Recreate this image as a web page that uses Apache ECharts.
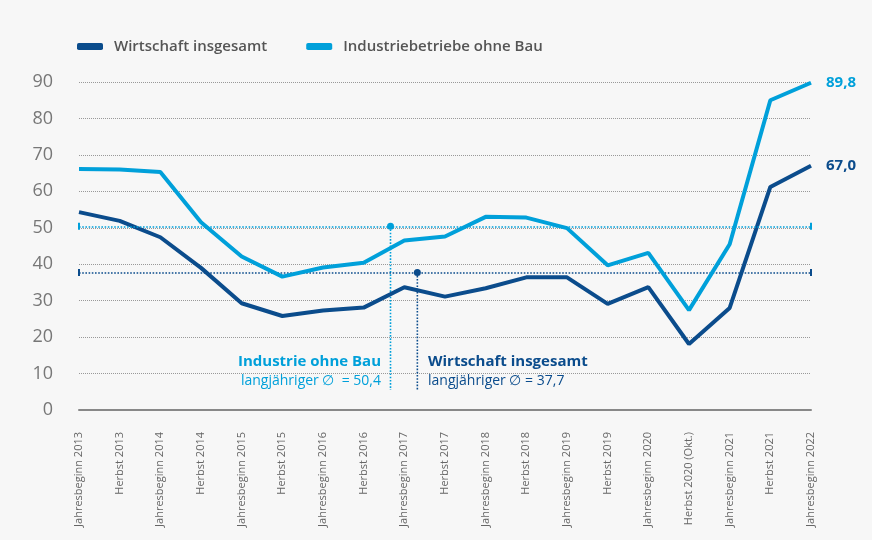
<!DOCTYPE html>
<html><head><meta charset="utf-8">
<script src="https://cdn.jsdelivr.net/npm/echarts@6/dist/echarts.min.js"></script>
<style>html,body{margin:0;padding:0;background:#f7f7f7}#c{width:872px;height:540px}</style>
</head><body><div id="c"></div>
<script>
var categories = ['Jahresbeginn 2013','Herbst 2013','Jahresbeginn 2014','Herbst 2014','Jahresbeginn 2015','Herbst 2015','Jahresbeginn 2016','Herbst 2016','Jahresbeginn 2017','Herbst 2017','Jahresbeginn 2018','Herbst 2018','Jahresbeginn 2019','Herbst 2019','Jahresbeginn 2020','Herbst 2020 (Okt.)','Jahresbeginn 2021','Herbst 2021','Jahresbeginn 2022'];
var wirtschaft = [54.3,51.9,47.4,39.0,29.3,25.8,27.3,28.1,33.7,31.1,33.4,36.4,36.4,29.1,33.7,18.1,28.0,61.2,67.0];
var industrie = [66.1,66.0,65.3,51.5,42.1,36.6,39.1,40.4,46.5,47.6,53.0,52.8,49.9,39.7,43.1,27.4,45.5,85.0,89.8];
var avgIndustrie = 50.4;
var avgWirtschaft = 37.7;
var yTicks = [0,10,20,30,40,50,60,70,80,90];
// annotation marker positions in category-index units
var annIndustrieX = 7.66;
var annWirtschaftX = 8.32;
var annBottom = 5.5;

var dark = '#0b4c8c', light = '#00a0da';
var font = 'Open Sans';
var chart = echarts.init(document.getElementById('c'));
function avgLine(v, col){
  return {silent:true, symbol:['rect','rect'], symbolSize:[7,2],
    label:{show:false},
    lineStyle:{color:col, type:'dotted', width:1.6},
    data:[{yAxis:v}]};
}
chart.setOption({
  backgroundColor:'#f7f7f7',
  animation:false,
  textStyle:{fontFamily:font},
  legend:{left:72, top:34, itemWidth:26, itemHeight:7, itemGap:39, icon:'roundRect',
    textStyle:{fontSize:15, fontWeight:600, color:'#555', fontFamily:font, padding:[0,0,0,6]},
    data:['Wirtschaft insgesamt','Industriebetriebe ohne Bau']},
  grid:{left:79, right:61, top:82, bottom:130},
  xAxis:[{type:'category', data:categories, boundaryGap:false,
    axisLine:{lineStyle:{color:'#888', width:2}}, axisTick:{show:false},
    axisLabel:{rotate:90, interval:0, margin:22, fontSize:11, color:'#666', fontFamily:font}},
    {type:'value', min:0, max:categories.length-1, show:false}],
  yAxis:{type:'value', min:yTicks[0], max:yTicks[yTicks.length-1], interval:10,
    axisLine:{show:false}, axisTick:{show:false},
    axisLabel:{fontSize:18, color:'#777', margin:26, fontFamily:font},
    splitLine:{lineStyle:{color:'#999', type:'dotted', width:1}}},
  series:[
    {name:'Wirtschaft insgesamt', type:'line', data:wirtschaft, symbol:'none',
     lineStyle:{color:dark, width:4}, itemStyle:{color:dark}, z:4,
     endLabel:{show:true, formatter:function(p){return p.value.toFixed(1).replace('.',',');}, color:dark, fontSize:15, fontWeight:'bold', distance:15},
     markLine:avgLine(avgWirtschaft, dark)},
    {name:'Industriebetriebe ohne Bau', type:'line', data:industrie, symbol:'none',
     lineStyle:{color:light, width:4}, itemStyle:{color:light}, z:5,
     endLabel:{show:true, formatter:function(p){return p.value.toFixed(1).replace('.',',');}, color:light, fontSize:15, fontWeight:'bold', distance:15},
     markLine:avgLine(avgIndustrie, light)},
    {type:'line', xAxisIndex:1, silent:true, z:3,
     data:[{value:[annIndustrieX, avgIndustrie], symbol:'circle', symbolSize:7},{value:[annIndustrieX, annBottom], symbol:'none'}],
     lineStyle:{color:light, type:'dotted', width:1.6}, itemStyle:{color:light}},
    {type:'line', xAxisIndex:1, silent:true, z:3,
     data:[{value:[annWirtschaftX, avgWirtschaft], symbol:'circle', symbolSize:7},{value:[annWirtschaftX, annBottom], symbol:'none'}],
     lineStyle:{color:dark, type:'dotted', width:1.6}, itemStyle:{color:dark}}
  ],
  graphic:[
    {type:'text', right:872-381, top:354, style:{text:'Industrie ohne Bau', fill:light, font:'bold 15px "Open Sans"', textAlign:'right'}},
    {type:'text', right:872-381, top:374, style:{text:'langjähriger ∅  = 50,4', fill:light, font:'14px "Open Sans"', textAlign:'right'}},
    {type:'text', left:428, top:354, style:{text:'Wirtschaft insgesamt', fill:dark, font:'bold 15px "Open Sans"'}},
    {type:'text', left:428, top:374, style:{text:'langjähriger ∅ = 37,7', fill:dark, font:'14px "Open Sans"'}}
  ]
});
</script></body></html>
